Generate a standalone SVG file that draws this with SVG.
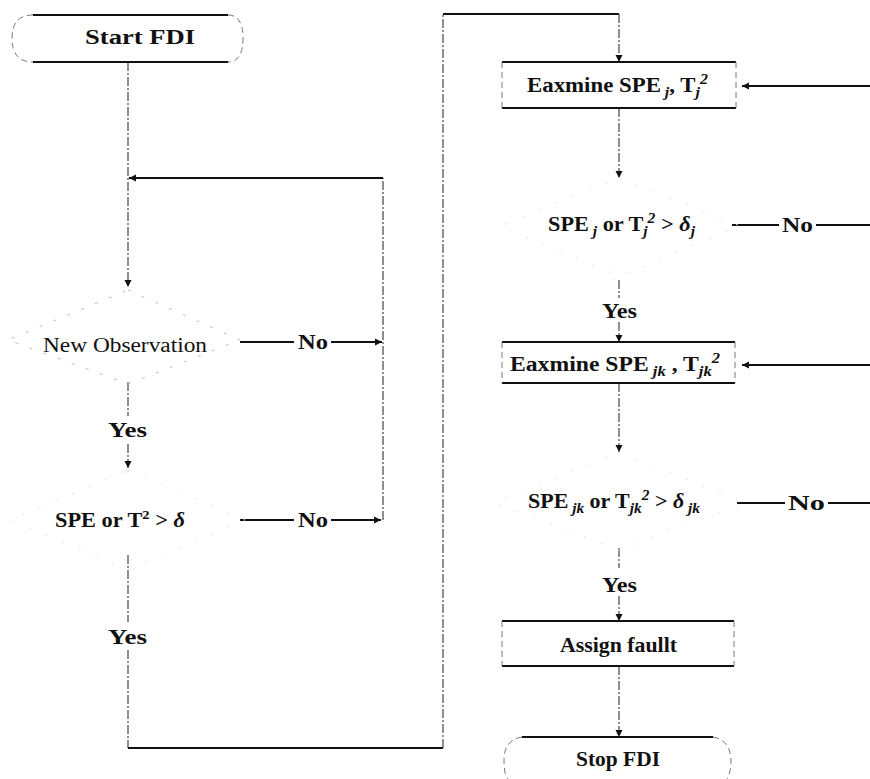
<svg xmlns="http://www.w3.org/2000/svg" width="870" height="779" viewBox="0 0 870 779">
<style>
.t{font-family:"Liberation Serif","Times New Roman",serif;font-size:20px;font-weight:bold;fill:#111}
.n{font-weight:normal}
.it{font-style:italic}
.h{stroke:#111;stroke-width:2;fill:none}
.v{stroke:#444;stroke-width:1.2;fill:none;stroke-dasharray:9 2 2 2}
.side{stroke:#777;stroke-width:1;fill:none;stroke-dasharray:6 4}
.dia{stroke:#bbb;stroke-width:1;fill:none;stroke-dasharray:3 12}
.dia2{stroke:#e2e2e2;stroke-width:1;fill:none;stroke-dasharray:2 16}
</style>
<defs>
<marker id="ar" markerWidth="8" markerHeight="8" refX="7" refY="4" orient="auto" markerUnits="userSpaceOnUse">
<path d="M0,0.5 L7,4 L0,7.5 z" fill="#111"/>
</marker>
</defs>
<rect width="870" height="779" fill="#fff"/>

<g id="connectors">
<path class="v" d="M128,62 V287" marker-end="url(#ar)"/>
<path class="h" d="M240,342 H294 M331,342 H382" marker-end="url(#ar)"/>
<path class="h" d="M240,520 H294 M331,520 H381" marker-end="url(#ar)"/>
<path class="v" d="M383,520 V178"/>
<path class="h" d="M383,178 H129" marker-end="url(#ar)"/>
<path class="v" d="M128,382 V416"/>
<path class="v" d="M128,444 V468" marker-end="url(#ar)"/>
<path class="v" d="M128,555 V622"/>
<path class="v" d="M128,650 V748"/>
<path class="h" d="M128,748 H443"/>
<path class="v" d="M443,748 V14"/>
<path class="h" d="M443,14 H619"/>
<path class="v" d="M619,14 V62" marker-end="url(#ar)"/>
<path class="v" d="M619,108 V178" marker-end="url(#ar)"/>
<path class="h" d="M732,225 H779 M816,225 H870"/>
<path class="h" d="M870,86 H742" marker-end="url(#ar)"/>
<path class="v" d="M619,280 V298"/>
<path class="v" d="M619,322 V342" marker-end="url(#ar)"/>
<path class="v" d="M619,383 V452" marker-end="url(#ar)"/>
<path class="h" d="M737,503 H785 M828,503 H870"/>
<path class="h" d="M870,365 H742" marker-end="url(#ar)"/>
<path class="v" d="M619,548 V568"/>
<path class="v" d="M619,596 V621" marker-end="url(#ar)"/>
<path class="v" d="M619,666 V737" marker-end="url(#ar)"/>
</g>

<g id="start">
<path class="h" d="M33,15 H228 M33,62 H228"/>
<path class="side" d="M33,15 Q12,15 12,38 Q12,62 33,62 M228,15 Q243,15 243,38 Q243,62 228,62"/>
<text class="t" x="85" y="44" textLength="110" lengthAdjust="spacingAndGlyphs">Start FDI</text>
</g>

<g id="new-observation">
<path class="dia" d="M128,290 L240,340 L128,384 L8,340 Z"/>
<text class="t n" x="43" y="352" textLength="164" lengthAdjust="spacingAndGlyphs">New Observation</text>
</g>

<g id="check-global">
<path class="dia2" d="M128,470 L245,520 L128,570 L10,520 Z"/>
<text class="t" x="55" y="527" textLength="130" lengthAdjust="spacingAndGlyphs">SPE  or  T<tspan font-size="13" dy="-8">2</tspan><tspan dy="8"> &gt; </tspan><tspan class="it">δ</tspan></text>
</g>

<g id="examine-j">
<path class="h" d="M502,62 H736 M502,108 H736"/>
<path class="side" d="M502,62 V108 M736,62 V108"/>
<text class="t" x="527" y="92" textLength="181" lengthAdjust="spacingAndGlyphs">Eaxmine  SPE<tspan class="it" font-size="14" dy="5"> j</tspan><tspan dy="-5">, T</tspan><tspan class="it" font-size="14" dy="5">j</tspan><tspan font-size="14" class="it" dx="0" dy="-13">2</tspan></text>
</g>

<g id="check-j">
<path class="dia2" d="M619,178 L740,226 L619,276 L500,226 Z"/>
<text class="t" x="548" y="231" textLength="147" lengthAdjust="spacingAndGlyphs">SPE<tspan class="it" font-size="14" dy="5"> j</tspan><tspan dy="-5"> or  T</tspan><tspan class="it" font-size="14" dy="5">j</tspan><tspan font-size="14" class="it" dx="0" dy="-13">2</tspan><tspan dy="8"> &gt; </tspan><tspan class="it">δ</tspan><tspan class="it" font-size="14" dy="5">j</tspan></text>
</g>

<g id="examine-jk">
<path class="h" d="M502,342 H735 M502,383 H735"/>
<path class="side" d="M502,342 V383 M735,342 V383"/>
<text class="t" x="510" y="371" textLength="210" lengthAdjust="spacingAndGlyphs">Eaxmine SPE<tspan class="it" font-size="14" dy="5"> jk</tspan><tspan dy="-5"> , T</tspan><tspan class="it" font-size="14" dy="5">jk</tspan><tspan font-size="14" class="it" dx="0" dy="-13">2</tspan></text>
</g>

<g id="check-jk">
<path class="dia2" d="M619,452 L745,503 L619,550 L495,503 Z"/>
<text class="t" x="528" y="508" textLength="172" lengthAdjust="spacingAndGlyphs">SPE<tspan class="it" font-size="14" dy="5"> jk</tspan><tspan dy="-5">  or  T</tspan><tspan class="it" font-size="14" dy="5">jk</tspan><tspan font-size="14" class="it" dx="0" dy="-13">2</tspan><tspan dy="8"> &gt; </tspan><tspan class="it">δ</tspan><tspan class="it" font-size="14" dy="5"> jk</tspan></text>
</g>

<g id="assign-fault">
<path class="h" d="M502,621 H734 M502,666 H734"/>
<path class="side" d="M502,621 V666 M734,621 V666"/>
<text class="t" x="560" y="652" textLength="117" lengthAdjust="spacingAndGlyphs">Assign faullt</text>
</g>

<g id="stop">
<path class="h" d="M522,737 H713"/>
<path class="side" d="M522,737 Q504,740 504,760 Q504,775 508,779 M713,737 Q730,740 731,760 Q731,772 727,779"/>
<text class="t" x="576" y="766" textLength="84" lengthAdjust="spacingAndGlyphs">Stop FDI</text>
</g>

<g id="labels">
<text class="t" x="108" y="437" textLength="39" lengthAdjust="spacingAndGlyphs">Yes</text>
<text class="t" x="108" y="644" textLength="39" lengthAdjust="spacingAndGlyphs">Yes</text>
<text class="t" x="298" y="349" textLength="30" lengthAdjust="spacingAndGlyphs">No</text>
<text class="t" x="298" y="527" textLength="30" lengthAdjust="spacingAndGlyphs">No</text>
<text class="t" x="782" y="232" textLength="31" lengthAdjust="spacingAndGlyphs">No</text>
<text class="t" x="788" y="510" textLength="37" lengthAdjust="spacingAndGlyphs">No</text>
<text class="t" x="602" y="318" textLength="35" lengthAdjust="spacingAndGlyphs">Yes</text>
<text class="t" x="602" y="592" textLength="35" lengthAdjust="spacingAndGlyphs">Yes</text>
</g>
</svg>
